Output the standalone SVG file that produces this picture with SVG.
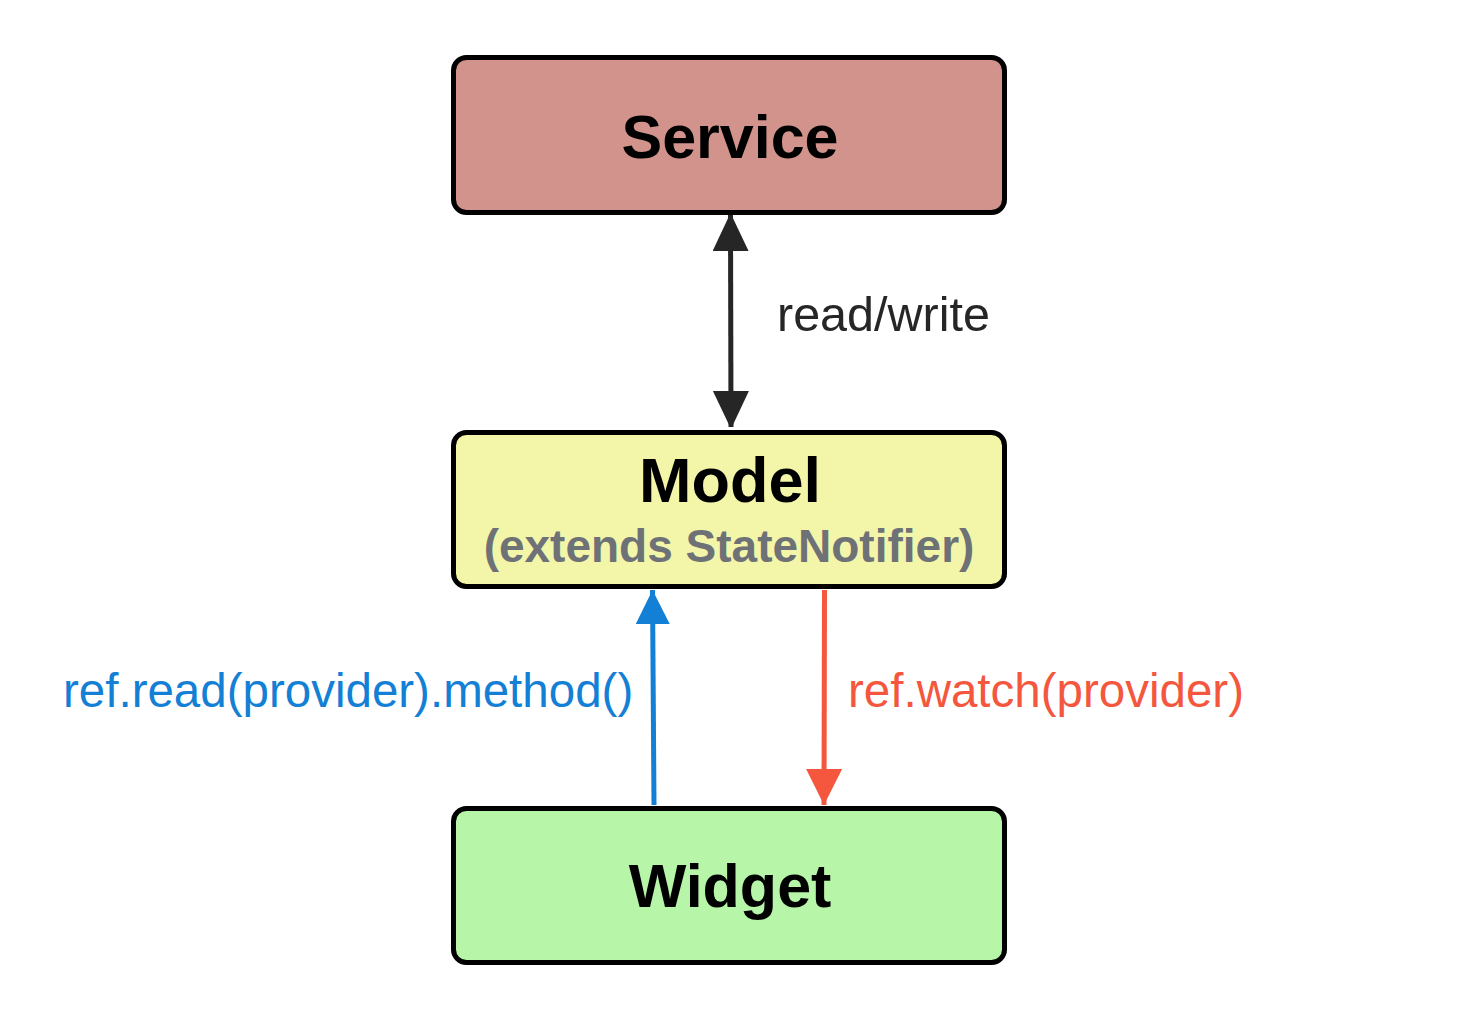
<svg xmlns="http://www.w3.org/2000/svg" width="1460" height="1022" viewBox="0 0 1460 1022">
<style>
.box{stroke:#000;stroke-width:5}
.title{font-family:"Liberation Sans",Arial,sans-serif;font-weight:bold;font-size:61px;fill:#000;text-anchor:middle}
.sub{font-family:"Liberation Sans",Arial,sans-serif;font-weight:bold;font-size:46px;fill:#6e7277;text-anchor:middle}
.lbl{font-family:"Liberation Sans",Arial,sans-serif;font-size:47.5px}
</style>
<defs>
<marker id="hb" viewBox="0 0 36 38" refX="36" refY="18" markerWidth="36" markerHeight="38" markerUnits="userSpaceOnUse" orient="auto-start-reverse"><path d="M0,0 L38,18 L0,36 Z" fill="#262626"/></marker>
<marker id="hblue" viewBox="0 0 34 34" refX="34" refY="17" markerWidth="34" markerHeight="34" markerUnits="userSpaceOnUse" orient="auto"><path d="M0,0 L34,17 L0,34 Z" fill="#1380d6"/></marker>
<marker id="hred" viewBox="0 0 36 36" refX="36" refY="18" markerWidth="36" markerHeight="36" markerUnits="userSpaceOnUse" orient="auto"><path d="M0,0 L36,18 L0,36 Z" fill="#f4573e"/></marker>
</defs>
<rect width="1460" height="1022" fill="#fff"/>
<g id="connectors">
<line x1="730.5" y1="215" x2="731" y2="427" stroke="#262626" stroke-width="5" marker-start="url(#hb)" marker-end="url(#hb)"/>
<line x1="654" y1="805" x2="652.5" y2="590" stroke="#1380d6" stroke-width="5" marker-end="url(#hblue)"/>
<line x1="824.5" y1="590" x2="824" y2="805" stroke="#f4573e" stroke-width="5" marker-end="url(#hred)"/>
<text class="lbl" x="777" y="331" fill="#262626" style="font-size:48.5px">read/write</text>
<text class="lbl" x="63" y="707" fill="#1380d6">ref.read(provider).method()</text>
<text class="lbl" x="848" y="707" fill="#f4573e">ref.watch(provider)</text>
</g>
<g id="service">
<rect class="box" x="453.5" y="57.5" width="551" height="155" rx="13" fill="#d2938c"/>
<text class="title" x="730" y="158">Service</text>
</g>
<g id="model">
<rect class="box" x="453.5" y="432.5" width="551" height="154" rx="13" fill="#f3f6a9"/>
<text class="title" x="730" y="502" style="font-size:63px">Model</text>
<text class="sub" x="729" y="562">(extends StateNotifier)</text>
</g>
<g id="widget">
<rect class="box" x="453.5" y="808.5" width="551" height="154" rx="13" fill="#b7f5a8"/>
<text class="title" x="730" y="907">Widget</text>
</g>
</svg>
